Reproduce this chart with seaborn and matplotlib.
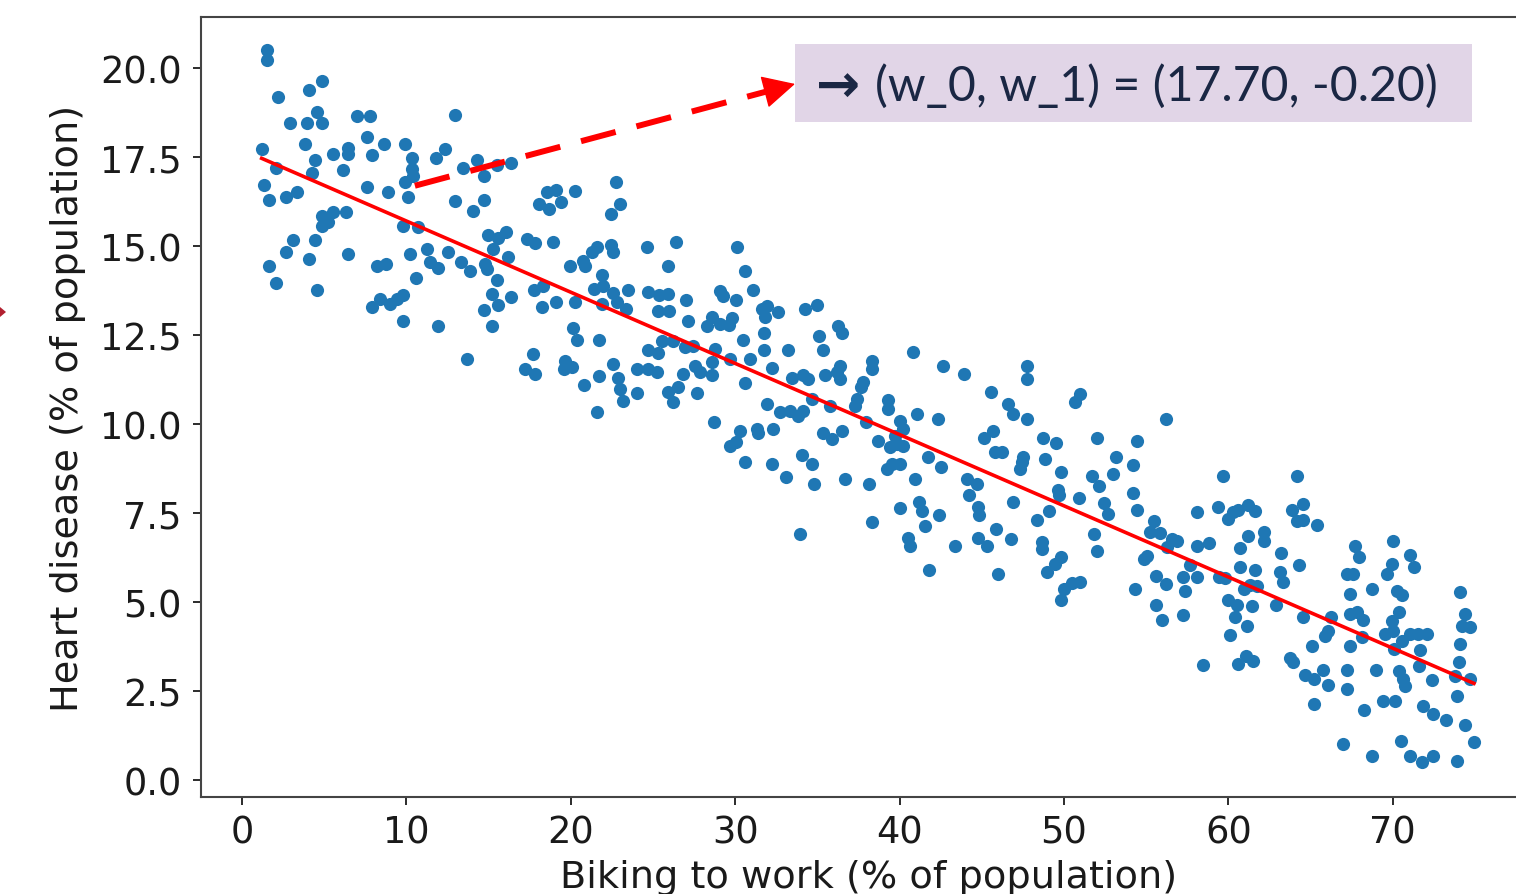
import numpy as np
import pandas as pd
import matplotlib
matplotlib.use('Agg')
import matplotlib.pyplot as plt
from matplotlib.patches import Rectangle, Polygon
import seaborn as sns

# Values (x = % biking, y = % heart disease)
biking = [
	1.50, 1.50, 4.85, 4.09, 2.21, 4.54, 2.92, 3.94, 4.85, 7.01, 7.79, 7.59, 8.64, 9.91, 3.83, 1.20, 6.43, 6.43,
	5.55, 7.89, 10.36, 11.80, 12.35, 4.44, 2.07, 6.16, 4.24, 10.36, 10.42, 9.91, 1.34, 7.59, 8.90, 3.36, 2.66,
	1.66, 10.08, 4.85, 5.55, 6.33, 5.25, 4.85, 9.81, 10.72, 3.08, 4.44, 2.66, 4.09, 6.43, 1.66, 2.07, 4.54, 8.19,
	8.74, 10.22, 11.23, 11.44, 11.94, 12.55, 10.57, 7.89, 8.39, 9.00, 9.41, 9.81, 9.78, 11.94, 12.96,
	14.28, 13.42, 14.72, 15.49, 16.34, 12.96, 14.03, 14.72, 22.75, 18.53, 19.10, 18.08, 18.67, 19.39, 20.26,
	22.99, 22.43, 14.98, 16.06, 15.59, 17.35, 17.82, 18.94, 15.29, 13.30, 13.87, 14.78, 14.88, 16.20, 15.49,
	15.19, 15.59, 16.34, 14.72, 15.19, 13.70, 17.78, 18.33, 18.23, 19.10, 19.95, 20.72, 20.86, 21.27, 21.58,
	22.43, 22.59, 20.26, 21.88, 21.41, 21.98, 22.59, 21.88, 22.79, 23.36, 23.50, 24.62, 24.71, 20.12, 20.40,
	21.72, 17.68, 17.21, 17.82, 19.65, 19.59, 20.05, 20.80, 21.73, 22.59, 22.89, 22.99, 23.16, 24.01, 24.04,
	24.71, 24.71, 21.58,
	26.40, 30.13, 25.93, 30.60, 25.93, 25.38, 26.99, 29.08, 29.28, 30.03, 31.06, 25.32, 25.99, 27.11, 28.57,
	28.27, 29.08, 29.79, 29.64, 31.61, 31.92, 31.81, 32.62, 31.75, 30.46, 31.75, 33.23, 34.25, 34.96, 35.12,
	35.36, 36.27, 36.48, 25.32, 25.53, 26.23, 26.95, 27.45, 28.77, 28.57, 25.22, 26.81, 27.55, 27.86, 28.57,
	29.68, 30.90, 30.60, 32.22, 33.44, 34.14, 34.45, 35.46, 36.17, 36.37, 36.37, 34.65, 35.77, 25.93, 26.54,
	26.23, 27.69, 31.92, 32.73, 33.33, 33.84, 34.14, 28.71, 30.29, 31.31, 31.41, 32.32, 29.68, 30.05, 35.36,
	35.87, 36.48, 30.60, 32.22, 34.08, 34.65, 33.07, 34.79, 36.68, 33.94,
	40.80, 38.30, 38.30, 42.66, 43.94, 47.73, 47.73, 37.79, 37.63, 45.56, 37.39, 37.29, 39.31, 39.31, 41.04,
	42.35, 46.61, 46.88, 47.77, 37.99, 40.02, 40.22, 38.70, 39.72, 39.82, 40.22, 39.42, 45.70, 45.13, 48.74,
	41.75, 42.52, 39.21, 39.52, 40.02, 45.80, 46.21, 47.52, 47.43, 47.32, 48.84, 38.16, 40.94, 44.08, 44.69,
	44.24, 44.79, 44.85, 46.88, 49.09, 40.02, 41.20, 41.34, 42.40, 38.30, 41.55, 45.86, 46.76, 48.34, 40.53,
	40.63, 43.37, 44.79, 45.30, 48.64, 48.64, 41.81, 46.00, 48.95,
	50.97, 50.67, 56.20, 49.51, 51.99, 54.46, 49.80, 53.16, 54.18, 53.00, 51.68, 52.15, 59.65, 49.65, 49.71,
	50.93, 54.18, 52.43, 52.69, 54.46, 58.07, 59.39, 59.99, 60.30, 60.60, 61.21, 55.47, 55.23, 55.84, 56.55,
	56.86, 56.25, 51.82, 51.99, 58.07, 58.84, 60.71, 61.21, 55.03, 54.87, 49.80, 49.45, 57.66, 60.71, 55.60,
	56.20, 57.22, 58.07, 59.45, 59.79, 60.95, 50.97, 50.47, 50.00, 49.80, 54.32, 57.36, 59.99, 60.50, 55.60,
	55.94, 57.22, 60.40, 61.11, 60.10, 58.47, 60.60, 61.07,
	64.19, 61.62, 63.85, 64.52, 64.19, 64.56, 65.37, 62.17, 62.17, 63.18, 67.70, 67.96, 69.99, 71.05, 71.29,
	69.93, 69.63, 67.20, 67.60, 64.31, 61.62, 63.14, 63.34, 61.31, 61.72, 68.72, 70.27, 70.54, 74.09, 67.40,
	61.44, 62.90, 67.40, 67.80, 68.21, 66.22, 64.52, 70.40, 69.93, 74.39, 74.19, 74.70, 66.08, 65.88, 68.11,
	69.53, 70.03, 71.05, 71.55, 72.06, 70.54, 70.07, 71.65, 74.09, 67.40, 65.07, 61.51, 63.75, 63.95, 71.61,
	74.04, 64.66, 65.21, 65.77, 66.08, 67.23, 67.23, 68.98, 70.40, 70.64, 70.74, 72.37, 73.78, 74.70, 73.92,
	65.21, 68.25, 69.42, 70.13, 71.85, 72.46, 73.24, 74.39, 66.95, 68.72, 70.48, 71.05, 71.76, 72.46, 73.92,
	74.94,
]
heart_disease = [
	20.49, 20.21, 19.62, 19.39, 19.19, 18.76, 18.46, 18.46, 18.46, 18.66, 18.66, 18.05, 17.86, 17.86, 17.86,
	17.72, 17.74, 17.58, 17.58, 17.54, 17.47, 17.46, 17.72, 17.40, 17.18, 17.12, 17.05, 17.16, 16.97, 16.79,
	16.72, 16.65, 16.51, 16.51, 16.37, 16.30, 16.37, 15.85, 15.96, 15.96, 15.67, 15.57, 15.57, 15.53, 15.18,
	15.18, 14.84, 14.63, 14.77, 14.43, 13.96, 13.76, 14.43, 14.49, 14.77, 14.92, 14.54, 14.38, 14.84, 14.10,
	13.29, 13.51, 13.37, 13.51, 13.63, 12.88, 12.76, 18.68,
	17.40, 17.18, 16.97, 17.26, 17.33, 16.26, 15.99, 16.30, 16.79, 16.51, 16.58, 16.18, 16.04, 16.24, 16.53,
	16.18, 15.90, 15.31, 15.38, 15.22, 15.20, 15.08, 15.10, 14.92, 14.56, 14.29, 14.49, 14.35, 14.68, 14.03,
	13.65, 13.35, 13.56, 13.21, 12.74, 11.81, 13.76, 13.88, 13.28, 13.42, 14.43, 14.59, 14.43, 14.82, 14.96,
	15.03, 14.82, 13.42, 14.17, 13.79, 13.88, 13.68, 13.37, 13.42, 13.23, 13.77, 14.96, 13.70, 12.69, 12.36,
	12.35, 11.95, 11.54, 11.40, 11.78, 11.54, 11.61, 11.08, 11.34, 11.69, 11.28, 10.98, 10.65, 11.54, 10.87,
	12.09, 11.54, 10.33,
	15.10, 14.96, 14.43, 14.29, 13.65, 13.62, 13.49, 13.74, 13.60, 13.49, 13.76, 13.18, 13.18, 12.90, 13.00,
	12.76, 12.81, 12.97, 12.78, 13.23, 13.31, 13.00, 13.15, 12.56, 12.36, 12.09, 12.09, 13.23, 13.34, 12.48,
	12.09, 12.76, 12.56, 11.99, 12.34, 12.34, 12.15, 12.20, 12.11, 11.73, 11.45, 11.40, 11.64, 11.47, 11.36,
	11.83, 11.83, 11.15, 11.56, 11.28, 11.36, 11.25, 11.36, 11.45, 11.64, 11.25, 10.70, 10.51, 10.89, 11.03,
	10.61, 10.87, 10.56, 10.33, 10.35, 10.23, 10.35, 10.06, 9.81, 9.86, 9.75, 9.86, 9.39, 9.50, 9.75,
	9.58, 9.81, 8.92, 8.86, 9.13, 8.86, 8.52, 8.31, 8.46, 6.91,
	12.01, 11.78, 11.54, 11.62, 11.40, 11.64, 11.25, 11.17, 11.03, 10.89, 10.70, 10.50, 10.68, 10.42, 10.28,
	10.14, 10.56, 10.28, 10.14, 10.06, 10.09, 9.86, 9.53, 9.67, 9.44, 9.39, 9.35, 9.81, 9.60, 9.60,
	9.06, 8.80, 8.74, 8.88, 8.88, 9.21, 9.21, 9.06, 8.92, 8.74, 9.02, 8.31, 8.46, 8.46, 8.31,
	7.99, 7.66, 7.44, 7.80, 7.56, 7.64, 7.80, 7.56, 7.44, 7.24, 7.12, 7.05, 6.77, 7.31, 6.79,
	6.56, 6.56, 6.79, 6.56, 6.68, 6.49, 5.91, 5.77, 5.83,
	10.84, 10.61, 10.14, 9.47, 9.60, 9.53, 8.66, 9.06, 8.85, 8.60, 8.53, 8.25, 8.53, 8.13, 7.99,
	7.93, 8.05, 7.78, 7.47, 7.58, 7.52, 7.66, 7.33, 7.52, 7.59, 7.72, 7.26, 6.97, 6.94, 6.77,
	6.71, 6.54, 6.91, 6.44, 6.58, 6.65, 6.51, 6.86, 6.30, 6.21, 6.26, 6.07, 6.04, 5.97, 5.72,
	5.51, 5.69, 5.69, 5.69, 5.67, 5.37, 5.57, 5.53, 5.35, 5.04, 5.37, 5.30, 5.06, 4.90, 4.90,
	4.50, 4.62, 4.57, 4.33, 4.08, 3.23, 3.26, 3.49,
	8.53, 7.56, 7.59, 7.75, 7.26, 7.31, 7.16, 6.96, 6.72, 6.38, 6.58, 6.26, 6.72, 6.32, 5.97,
	6.07, 5.79, 5.79, 5.79, 6.04, 5.91, 5.83, 5.57, 5.48, 5.46, 5.37, 5.32, 5.20, 5.29, 5.22,
	4.89, 4.90, 4.66, 4.71, 4.50, 4.57, 4.57, 4.71, 4.47, 4.66, 4.33, 4.29, 4.19, 4.05, 4.01,
	4.10, 4.19, 4.10, 4.10, 4.10, 3.91, 3.68, 3.66, 3.82, 3.76, 3.76, 3.35, 3.42, 3.32, 3.21,
	3.31, 2.95, 2.84, 3.10, 2.67, 3.09, 2.56, 3.09, 3.07, 2.84, 2.63, 2.82, 2.93, 2.84, 2.35,
	2.13, 1.95, 2.21, 2.21, 2.09, 1.85, 1.67, 1.54, 1.01, 0.68, 1.08, 0.67, 0.51, 0.67, 0.54,
	1.06,
]

# fitted weights shown in the box
w_0 = 17.70
w_1 = -0.20
label_text = '(w_0, w_1) = (17.70, -0.20)'

df = pd.DataFrame({'biking': biking, 'heart': heart_disease})
line_x = np.array([df['biking'].min(), df['biking'].max()])
line_df = pd.DataFrame({'biking': line_x, 'heart': w_0 + w_1 * line_x})

W, H = 1516, 895
fig = plt.figure(figsize=(W / 100, H / 100), dpi=100)
x_lim = (-2.49, 78.69)
y_lim = (-0.48, 21.43)
ax = fig.add_axes([201 / W, 1 - 798 / H, (x_lim[1] - x_lim[0]) * 16.44 / W, 780 / H])

sns.scatterplot(data=df, x='biking', y='heart', ax=ax, color='#1f77b4', s=90, linewidth=0, zorder=2)
sns.lineplot(data=line_df, x='biking', y='heart', ax=ax, color='red', linewidth=2.6, zorder=3)

ax.set_xlim(x_lim)
ax.set_ylim(y_lim)
ax.set_xticks(np.arange(0, 71, 10))
ax.set_yticks(np.arange(0, 20.1, 2.5))
ax.yaxis.set_major_formatter(matplotlib.ticker.FormatStrFormatter('%.1f'))
ax.tick_params(labelsize=26.5, length=6, width=1.3, pad=6, colors='#1a1a1a')
ax.tick_params(axis='y', pad=8)
for s in ax.spines.values():
	s.set_color('#444444')
	s.set_linewidth(1.5)
ax.set_xlabel('Biking to work (% of population)', fontsize=27.5, color='#1a1a1a', labelpad=6)
ax.set_ylabel('Heart disease (% of population)', fontsize=27.5, color='#1a1a1a', labelpad=10)

# dashed arrow towards the box
arrow_start = (10.52, 16.69)
arrow_end = (33.64, 19.55)
ax.plot([arrow_start[0], arrow_end[0] - 0.9], [arrow_start[1], arrow_end[1] - 0.11], color='red',
	linewidth=4.3, linestyle=(0, (6, 3.6)), zorder=4)
ax.annotate('', xy=arrow_end, xytext=(arrow_end[0] - 1.4, arrow_end[1] - 0.17),
	arrowprops=dict(arrowstyle='-|>,head_length=0.75,head_width=0.38', color='red', lw=1,
		mutation_scale=28, shrinkA=0, shrinkB=0), zorder=4)

# label box
fig.patches.append(Rectangle((795 / W, 1 - 123 / H), 677 / W, 78 / H, transform=fig.transFigure,
	facecolor='#e1d5e7', edgecolor='none', zorder=5))
fig.text(816 / W, 1 - 87 / H, '→', fontsize=38, fontweight='bold', color='#1a2744',
	family=['DejaVu Sans'], ha='left', va='center', zorder=6)
fig.text(875 / W, 1 - 86 / H, label_text, fontsize=34.7, color='#1a2744',
	family=['Lato', 'DejaVu Sans'], fontweight='normal', ha='left', va='center', zorder=6)

# leftover arrow tip at the left edge
fig.patches.append(Polygon([(0, 1 - 308 / H), (6 / W, 1 - 313 / H), (0, 1 - 318 / H)],
	closed=True, transform=fig.transFigure, facecolor='#b22030', edgecolor='none'))

fig.savefig('out.png', dpi=100)
